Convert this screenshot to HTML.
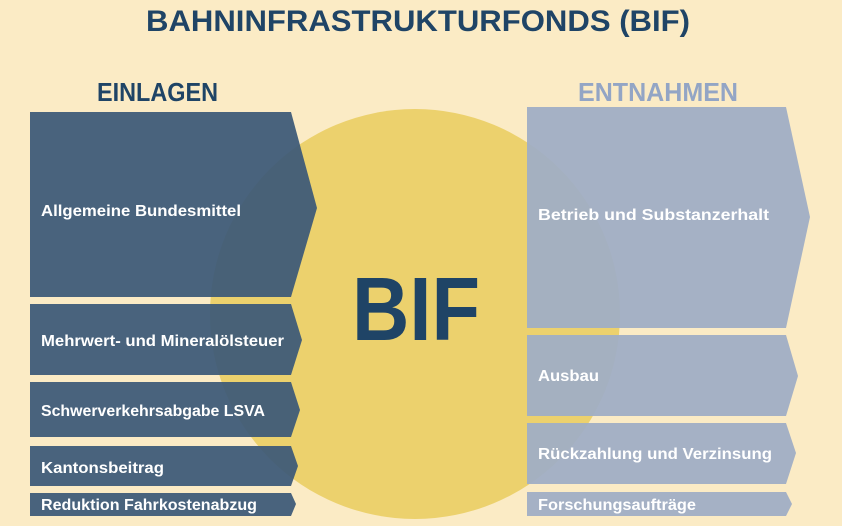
<!DOCTYPE html>
<html><head><meta charset="utf-8"><style>html,body{margin:0;padding:0;background:#fbebc5;}svg{display:block}</style></head>
<body>
<svg width="842" height="526" viewBox="0 0 842 526" xmlns="http://www.w3.org/2000/svg" font-family="Liberation Sans, sans-serif" font-weight="bold">
<rect width="842" height="526" fill="#fbebc5"/>
<circle cx="415" cy="314" r="205" fill="#ecd16d"/>
<text x="146" y="31" font-size="30" fill="#1f4466" textLength="544" lengthAdjust="spacingAndGlyphs">BAHNINFRASTRUKTURFONDS (BIF)</text>
<text x="97" y="101" font-size="26" fill="#1f4466" textLength="121" lengthAdjust="spacingAndGlyphs">EINLAGEN</text>
<text x="578" y="101" font-size="26" fill="#93a5c5" textLength="160" lengthAdjust="spacingAndGlyphs">ENTNAHMEN</text>
<g fill="#3b5877" fill-opacity="0.93">
<polygon points="30,112 291,112 317,208 291,297 30,297"/>
<polygon points="30,304 291,304 302,340 291,375 30,375"/>
<polygon points="30,382 291,382 300,410 291,437 30,437"/>
<polygon points="30,446 291,446 298,466 291,486 30,486"/>
<polygon points="30,493 291,493 296,504 291,516 30,516"/>
</g>
<g fill="#a0aec5" fill-opacity="0.95">
<polygon points="527,107 786,107 810,217 786,328 527,328"/>
<polygon points="527,335 786,335 798,376 786,416 527,416"/>
<polygon points="527,423 786,423 796,453 786,484 527,484"/>
<polygon points="527,492 786,492 792,504 786,516 527,516"/>
</g>
<text x="352" y="340" font-size="90" fill="#1f4466" textLength="128" lengthAdjust="spacingAndGlyphs">BIF</text>
<g fill="#ffffff" font-size="16">
<text x="41" y="216" textLength="200" lengthAdjust="spacingAndGlyphs">Allgemeine Bundesmittel</text>
<text x="41" y="346" textLength="243" lengthAdjust="spacingAndGlyphs">Mehrwert- und Mineralölsteuer</text>
<text x="41" y="416" textLength="224" lengthAdjust="spacingAndGlyphs">Schwerverkehrsabgabe LSVA</text>
<text x="41" y="473" textLength="123" lengthAdjust="spacingAndGlyphs">Kantonsbeitrag</text>
<text x="41" y="510" textLength="216" lengthAdjust="spacingAndGlyphs">Reduktion Fahrkostenabzug</text>
<text x="538" y="220" textLength="231" lengthAdjust="spacingAndGlyphs">Betrieb und Substanzerhalt</text>
<text x="538" y="381" textLength="61" lengthAdjust="spacingAndGlyphs">Ausbau</text>
<text x="538" y="459" textLength="234" lengthAdjust="spacingAndGlyphs">Rückzahlung und Verzinsung</text>
<text x="538" y="510" textLength="158" lengthAdjust="spacingAndGlyphs">Forschungsaufträge</text>
</g>
</svg>
</body></html>
